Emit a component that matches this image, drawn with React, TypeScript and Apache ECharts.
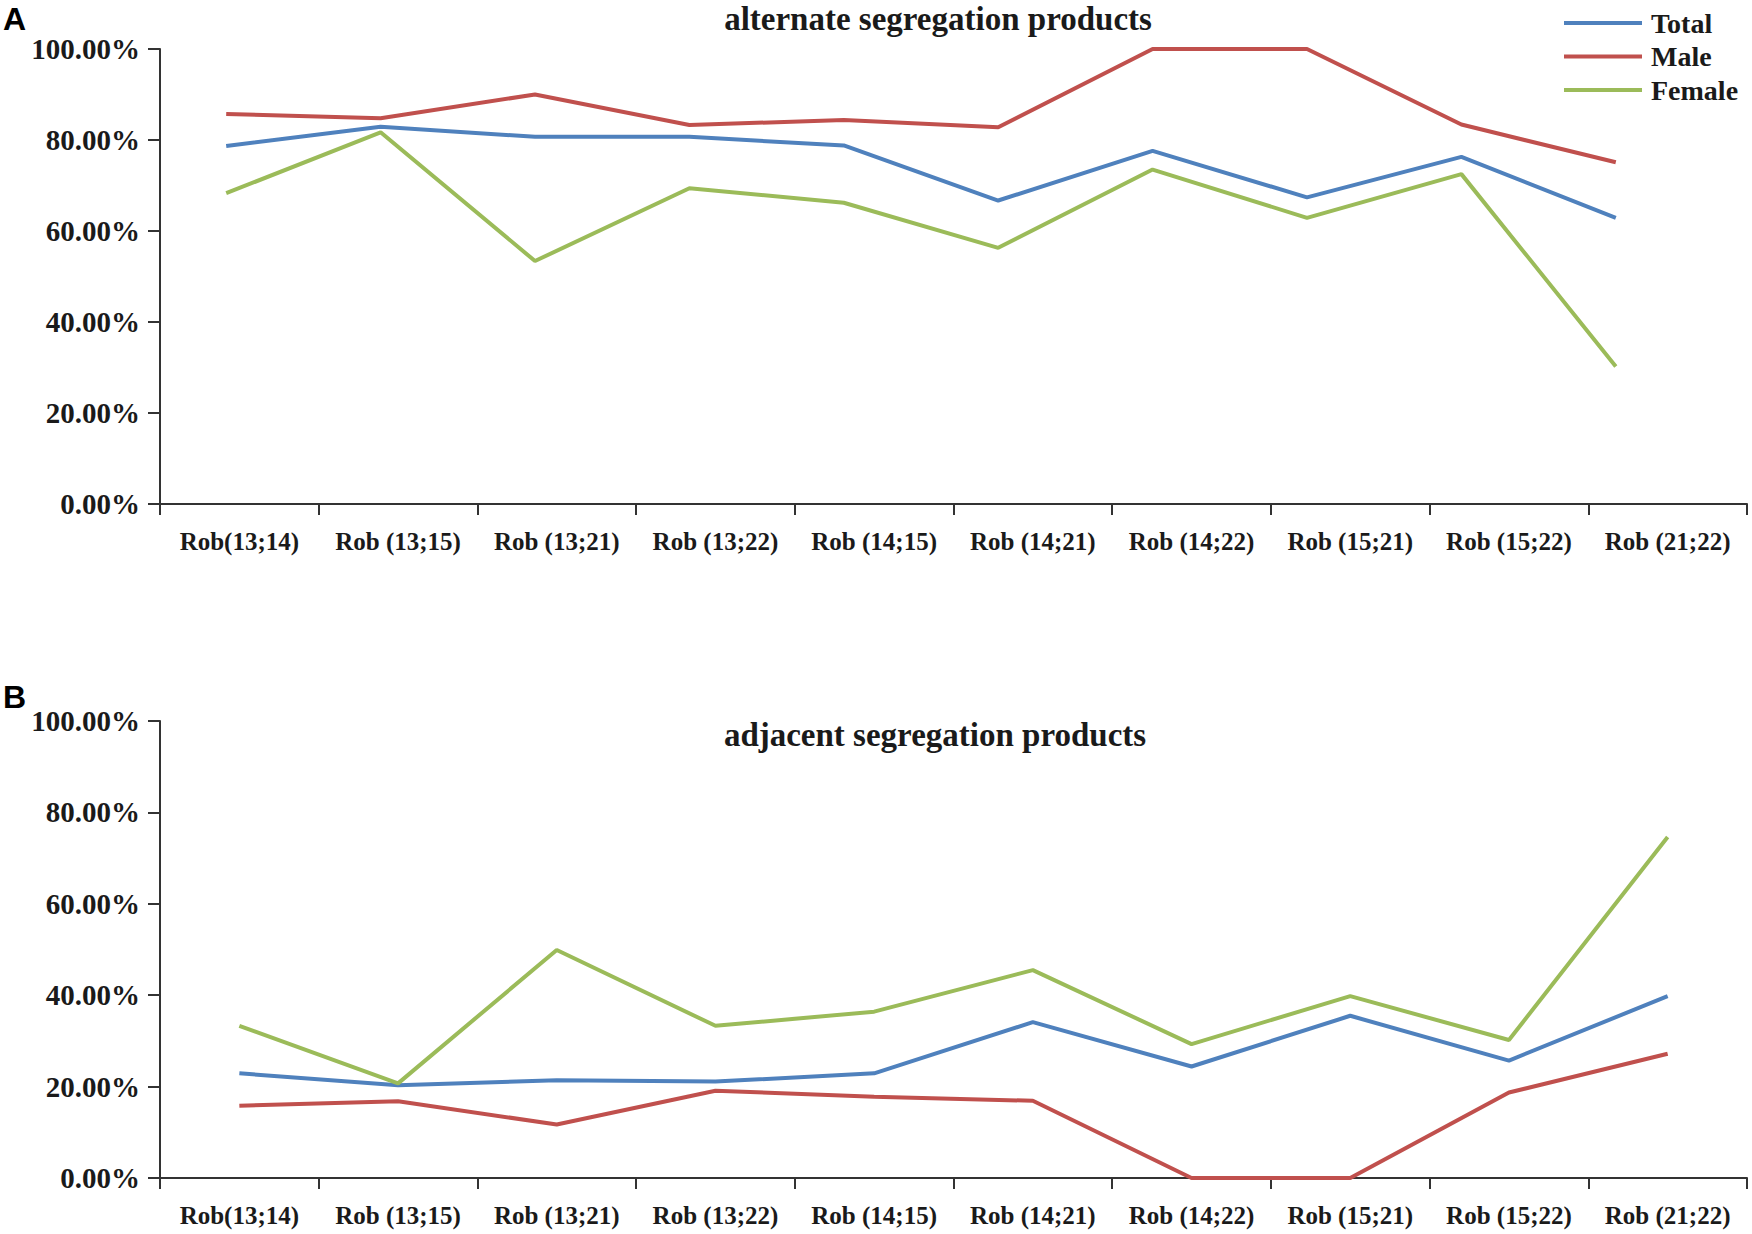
import React, { useEffect, useRef } from "react";
import * as echarts from "echarts";

const categories = [
  "Rob(13;14)",
  "Rob (13;15)",
  "Rob (13;21)",
  "Rob (13;22)",
  "Rob (14;15)",
  "Rob (14;21)",
  "Rob (14;22)",
  "Rob (15;21)",
  "Rob (15;22)",
  "Rob (21;22)",
];

const seriesNames = ["Total", "Male", "Female"];

// A: alternate segregation products (%)
const altTotal = [78.7, 82.9, 80.7, 80.7, 78.8, 66.7, 77.6, 67.4, 76.3, 62.9];
const altMale = [85.7, 84.8, 90.0, 83.3, 84.4, 82.8, 100, 100, 83.4, 75.1];
const altFemale = [68.3, 81.7, 53.4, 69.4, 66.2, 56.3, 73.5, 62.9, 72.5, 30.2];

// B: adjacent segregation products (%)
const adjTotal = [22.9, 20.3, 21.4, 21.1, 22.9, 34.1, 24.4, 35.5, 25.7, 39.8];
const adjMale = [15.8, 16.8, 11.7, 19.1, 17.8, 16.9, 0, 0, 18.7, 27.2];
const adjFemale = [33.3, 20.7, 49.9, 33.3, 36.4, 45.5, 29.3, 39.8, 30.2, 74.6];

const yTicks = { min: 0, max: 100, interval: 20 };

const titleA = "alternate segregation products";
const titleB = "adjacent segregation products";

const COLORS = ["#4F81BD", "#C0504D", "#9BBB59"];
const SERIF = '"Liberation Serif", "Times New Roman", serif';
const SANS = '"Liberation Sans", Arial, sans-serif';
const TXT = "#1a1a1a";
const AX = "#333333";

export default function App() {
  const ref = useRef<HTMLDivElement>(null);

  useEffect(() => {
    if (!ref.current) return;
    const chart = echarts.init(ref.current, undefined, { renderer: "svg" });

    const visibleX = (gridIndex: number) => ({
      gridIndex,
      type: "category",
      data: categories,
      boundaryGap: true,
      axisLine: { show: true, lineStyle: { color: AX, width: 2 } },
      axisTick: { show: true, length: 11, lineStyle: { color: AX, width: 2 } },
      axisLabel: {
        interval: 0,
        margin: 25,
        fontSize: 25,
        fontWeight: "bold",
        fontFamily: SERIF,
        color: TXT,
      },
      splitLine: { show: false },
    });

    const visibleY = (gridIndex: number) => ({
      gridIndex,
      type: "value",
      min: yTicks.min,
      max: yTicks.max,
      interval: yTicks.interval,
      axisLine: { show: true, lineStyle: { color: AX, width: 2 } },
      axisTick: { show: true, length: 12, lineStyle: { color: AX, width: 2 } },
      axisLabel: {
        margin: 20,
        fontSize: 29,
        fontWeight: "bold",
        fontFamily: SERIF,
        color: TXT,
        formatter: (v: number) => v.toFixed(2) + "%",
      },
      splitLine: { show: false },
    });

    const mkSeries = (
      name: string,
      data: number[],
      color: string,
      xAxisIndex: number,
      yAxisIndex: number
    ) => ({
      name,
      type: "line",
      data,
      xAxisIndex,
      yAxisIndex,
      showSymbol: false,
      symbol: "none",
      lineStyle: { color, width: 4 },
      itemStyle: { color },
      z: 3,
    });

    const option: any = {
      animation: false,
      textStyle: { fontFamily: SERIF },
      legend: {
        orient: "vertical",
        left: 1559,
        top: 4,
        itemWidth: 78,
        itemHeight: 4,
        itemGap: 5.5,
        icon: "rect",
        data: seriesNames,
        textStyle: {
          fontSize: 28,
          fontWeight: "bold",
          fontFamily: SERIF,
          color: TXT,
          padding: [0, 0, 0, 4],
        },
      },
      grid: [
        { left: 160, top: 49, width: 1587, height: 455 },
        { left: 149, top: 49, width: 1544, height: 455 },
        { left: 160, top: 721, width: 1587, height: 457 },
      ],
      xAxis: [
        visibleX(0),
        { gridIndex: 1, type: "category", data: categories, boundaryGap: true, show: false },
        visibleX(2),
      ],
      yAxis: [
        visibleY(0),
        { gridIndex: 1, type: "value", min: yTicks.min, max: yTicks.max, show: false },
        visibleY(2),
      ],
      series: [
        mkSeries(seriesNames[0], altTotal, COLORS[0], 1, 1),
        mkSeries(seriesNames[1], altMale, COLORS[1], 1, 1),
        mkSeries(seriesNames[2], altFemale, COLORS[2], 1, 1),
        mkSeries(seriesNames[0], adjTotal, COLORS[0], 2, 2),
        mkSeries(seriesNames[1], adjMale, COLORS[1], 2, 2),
        mkSeries(seriesNames[2], adjFemale, COLORS[2], 2, 2),
      ],
      graphic: [
        {
          type: "text",
          x: 938,
          y: 19,
          style: {
            text: titleA,
            fontSize: 33,
            fontWeight: "bold",
            fontFamily: SERIF,
            fill: TXT,
            align: "center",
            verticalAlign: "middle",
          },
        },
        {
          type: "text",
          x: 935,
          y: 735,
          style: {
            text: titleB,
            fontSize: 33,
            fontWeight: "bold",
            fontFamily: SERIF,
            fill: TXT,
            align: "center",
            verticalAlign: "middle",
          },
        },
        {
          type: "text",
          x: 3,
          y: 19,
          style: {
            text: "A",
            fontSize: 32,
            fontWeight: "bold",
            fontFamily: SANS,
            fill: "#000",
            align: "left",
            verticalAlign: "middle",
          },
        },
        {
          type: "text",
          x: 3,
          y: 697,
          style: {
            text: "B",
            fontSize: 32,
            fontWeight: "bold",
            fontFamily: SANS,
            fill: "#000",
            align: "left",
            verticalAlign: "middle",
          },
        },
      ],
    };

    chart.setOption(option);
    return () => {
      chart.dispose();
    };
  }, []);

  return (
    <div
      ref={ref}
      style={{
        position: "absolute",
        left: 0,
        top: 0,
        width: 1752,
        height: 1234,
        background: "#ffffff",
      }}
    />
  );
}
